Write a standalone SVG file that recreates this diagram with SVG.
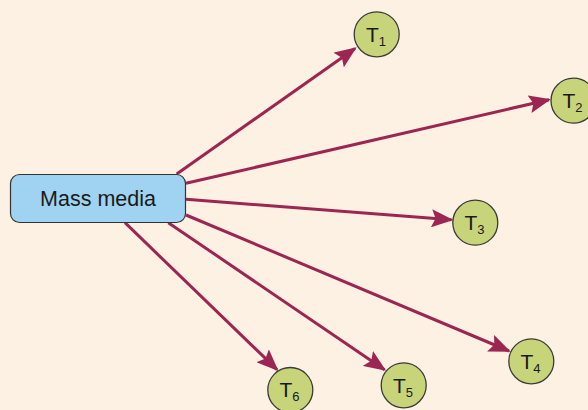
<svg xmlns="http://www.w3.org/2000/svg" width="588" height="410" viewBox="0 0 588 410">
<style>
.bg{fill:#fdf1e3}
.box{fill:#9fd3f1;stroke:#333;stroke-width:1.2}
.node{fill:#c8d47a;stroke:#3a3a3a;stroke-width:1.3}
.edge{stroke:#9c2552;stroke-width:3;fill:none}
.lbl{font-family:"Liberation Sans",Arial,sans-serif;fill:#1a1a1a}
.t{font-size:21px}
.s{font-size:13px}
</style>
<defs>
<marker id="ah" viewBox="0 0 22 18" markerWidth="22" markerHeight="18" markerUnits="userSpaceOnUse" refX="20" refY="9" orient="auto">
<path d="M0,0 L22,9 L0,18 L4,9 Z" fill="#9c2552"/>
</marker>
</defs>
<rect class="bg" x="0" y="0" width="588" height="410"/>
<g id="connectors">
<line class="edge" x1="176.7" y1="174" x2="355" y2="48.5" marker-end="url(#ah)"/>
<line class="edge" x1="186" y1="183.3" x2="549" y2="99.7" marker-end="url(#ah)"/>
<line class="edge" x1="186" y1="199.3" x2="451.5" y2="219.8" marker-end="url(#ah)"/>
<line class="edge" x1="186" y1="215" x2="509" y2="351" marker-end="url(#ah)"/>
<line class="edge" x1="168.3" y1="222.7" x2="384.5" y2="369.7" marker-end="url(#ah)"/>
<line class="edge" x1="125" y1="222.7" x2="277" y2="369.7" marker-end="url(#ah)"/>
</g>
<g id="mass-media">
<rect class="box" x="10.5" y="174.5" width="175" height="48" rx="9"/>
<text class="lbl" x="98" y="205.5" font-size="21.5" text-anchor="middle">Mass media</text>
</g>
<g id="T1">
<circle class="node" cx="376.7" cy="34.3" r="22.5"/>
<text class="lbl" x="366" y="42"><tspan class="t">T</tspan><tspan class="s" dy="4">1</tspan></text>
</g>
<g id="T2">
<circle class="node" cx="573.5" cy="100.7" r="22.5"/>
<text class="lbl" x="562.5" y="108"><tspan class="t">T</tspan><tspan class="s" dy="4">2</tspan></text>
</g>
<g id="T3">
<circle class="node" cx="475.3" cy="222.7" r="22.5"/>
<text class="lbl" x="464.5" y="230"><tspan class="t">T</tspan><tspan class="s" dy="4">3</tspan></text>
</g>
<g id="T4">
<circle class="node" cx="531.3" cy="361.3" r="22.5"/>
<text class="lbl" x="520.5" y="368.5"><tspan class="t">T</tspan><tspan class="s" dy="4">4</tspan></text>
</g>
<g id="T5">
<circle class="node" cx="403.7" cy="385.3" r="22.5"/>
<text class="lbl" x="393" y="392.5"><tspan class="t">T</tspan><tspan class="s" dy="4">5</tspan></text>
</g>
<g id="T6">
<circle class="node" cx="290.3" cy="390" r="22.5"/>
<text class="lbl" x="279.5" y="397"><tspan class="t">T</tspan><tspan class="s" dy="4">6</tspan></text>
</g>
</svg>
